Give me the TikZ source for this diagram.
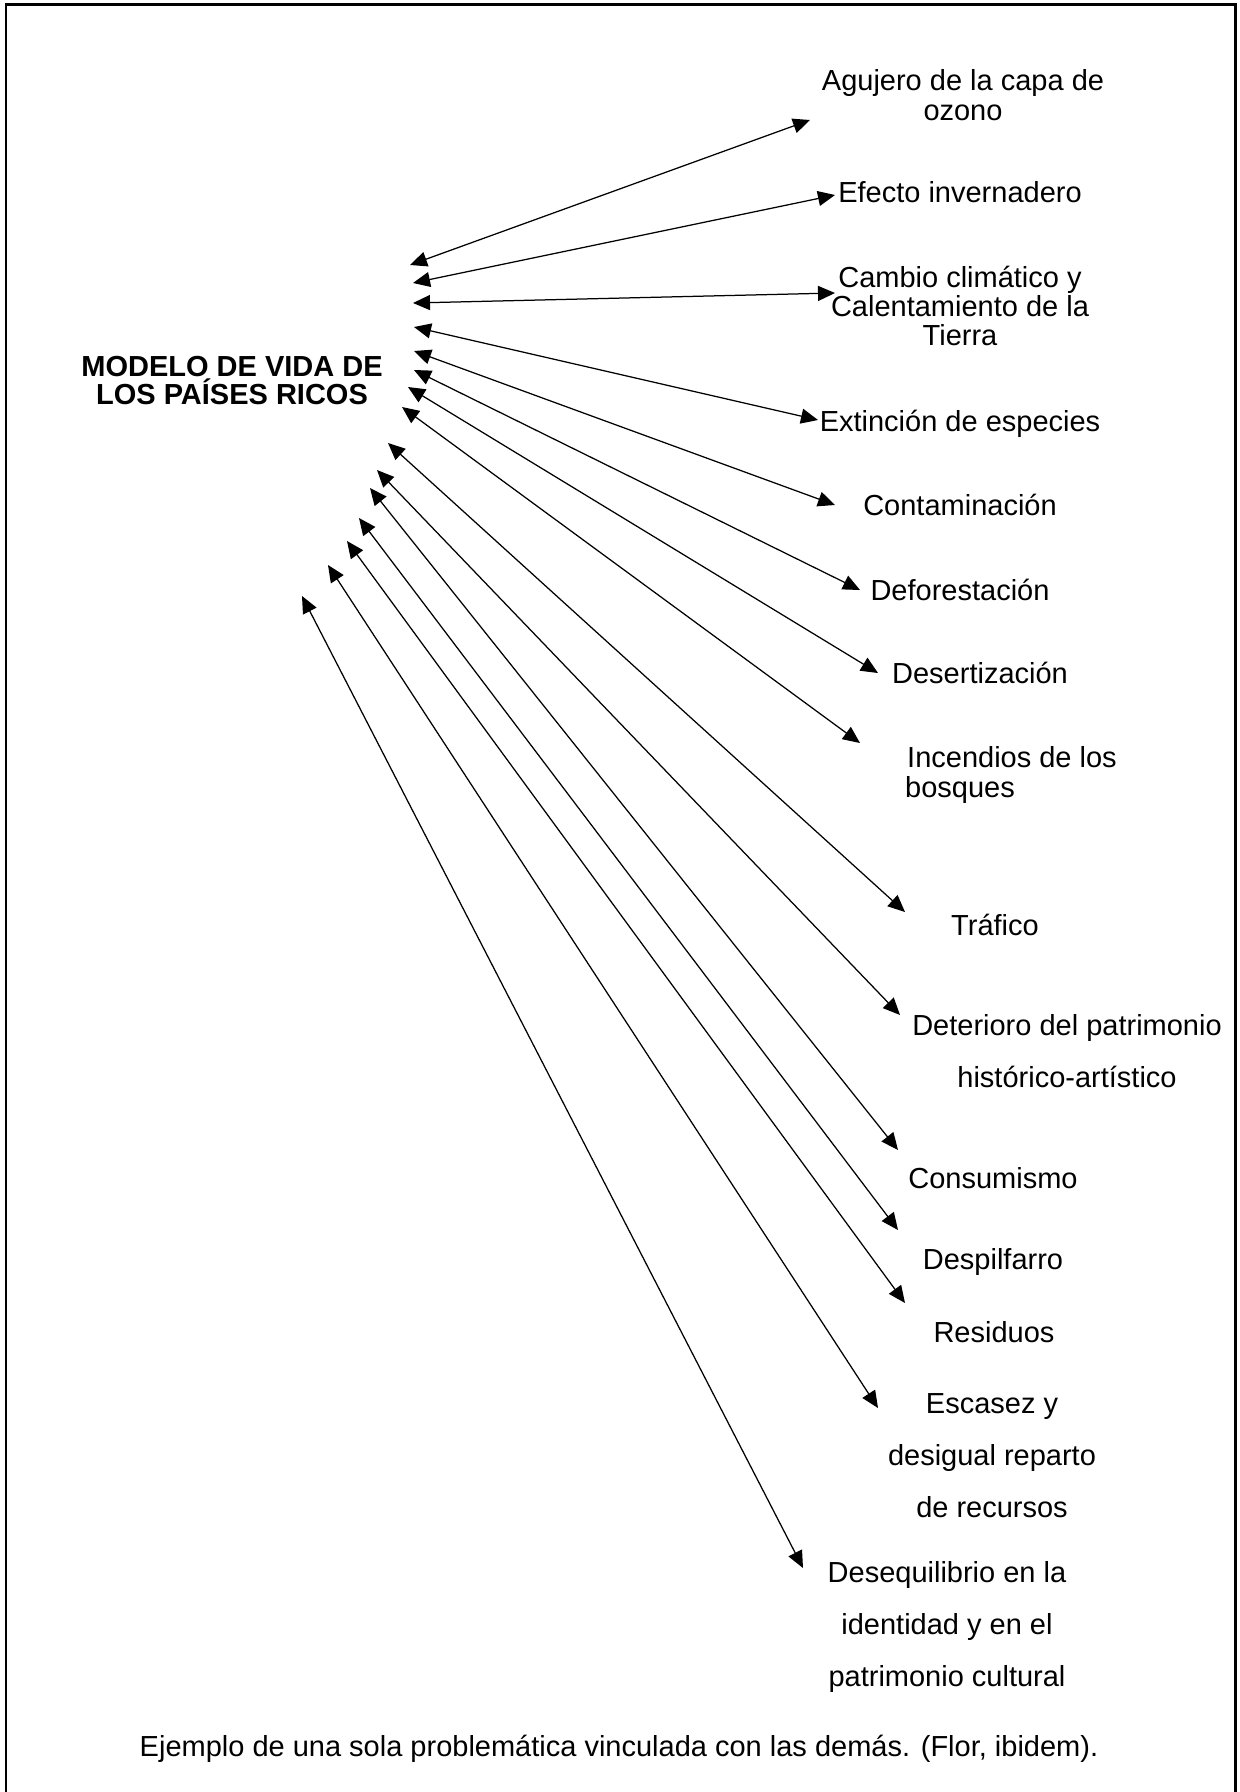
\documentclass[tikz,border=0pt]{standalone}
\usepackage{fontspec}
\setmainfont{Liberation Sans}
\usetikzlibrary{arrows.meta}
\begin{document}
\begin{tikzpicture}[x=1pt,y=-1pt,
  link/.style={{Triangle[length=17pt,width=15pt]}-{Triangle[length=17pt,width=15pt]}, line width=1.25pt},
  lbl/.style={inner sep=0pt, align=center, font=\fontsize{29}{30}\selectfont},
  lblwide/.style={inner sep=0pt, align=center, font=\fontsize{29}{52}\selectfont},
  frame/.style={line width=2.6pt}]
\useasboundingbox (0,0) rectangle (1240,1792);

% outer frame (runs off the bottom edge)
\draw[frame] (6,1800) -- (6,4.5) -- (1235.5,4.5) -- (1235.5,1800);

% central topic
\node[inner sep=0pt, align=center, font=\fontsize{29}{28}\selectfont\bfseries] (modelo) at (232,381)
  {MODELO DE VIDA DE\\LOS PAÍSES RICOS};

% problems
\node[lbl] (ozono) at (963,95) {Agujero de la capa de\\ozono};
\node[lbl] (efecto) at (960,192) {Efecto invernadero};
\node[lbl, font=\fontsize{29}{29}\selectfont] (cambio) at (960,306) {Cambio climático y\\Calentamiento de la\\Tierra};
\node[lbl] (extincion) at (960,424) {Extinción de especies};
\node[lbl] (contam) at (960,505) {Contaminación};
\node[lbl] (defor) at (960,590) {Deforestación};
\node[lbl] (desert) at (980,673) {Desertización};
\node[lbl, align=left, anchor=west] (incendios) at (905,775) {\hspace*{2pt}Incendios de los\\bosques};
\node[lbl] (trafico) at (995,925) {Tráfico};
\node[lblwide] (deterioro) at (1067,1051) {Deterioro del patrimonio\\histórico-artístico};
\node[lbl] (consumo) at (993,1178) {Consumismo};
\node[lbl] (despil) at (993,1262) {Despilfarro};
\node[lbl] (residuos) at (994,1332) {Residuos};
\node[lblwide] (escasez) at (992,1456) {Escasez y\\desigual reparto\\de recursos};
\node[lblwide] (deseq) at (947,1627) {Desequilibrio en la\\identidad y en el\\patrimonio cultural};

% caption
\node[lbl] (caption) at (619,1749) {Ejemplo de una sola problemática vinculada con las demás. (Flor, ibidem).};

% arrow end points
\coordinate (l1) at (410,265);  \coordinate (r1) at (810,120);
\coordinate (l2) at (413,283);  \coordinate (r2) at (835,195);
\coordinate (l3) at (413,303);  \coordinate (r3) at (835,293);
\coordinate (l4) at (414,327);  \coordinate (r4) at (818,420);
\coordinate (l5) at (414,351);  \coordinate (r5) at (835,505);
\coordinate (l6) at (414,370);  \coordinate (r6) at (860,590);
\coordinate (l7) at (408,387);  \coordinate (r7) at (878,673);
\coordinate (l8) at (402,407);  \coordinate (r8) at (860,743);
\coordinate (l9) at (388,443);  \coordinate (r9) at (905,912);
\coordinate (l10) at (377,470); \coordinate (r10) at (900,1015);
\coordinate (l11) at (370,488); \coordinate (r11) at (898,1150);
\coordinate (l12) at (359,518); \coordinate (r12) at (898,1230);
\coordinate (l13) at (347,541); \coordinate (r13) at (905,1303);
\coordinate (l14) at (328,565); \coordinate (r14) at (878,1408);
\coordinate (l15) at (302,596); \coordinate (r15) at (803,1568);

\foreach \i in {1,...,15} {
  \draw[link] (l\i) -- (r\i);
}
\end{tikzpicture}
\end{document}
